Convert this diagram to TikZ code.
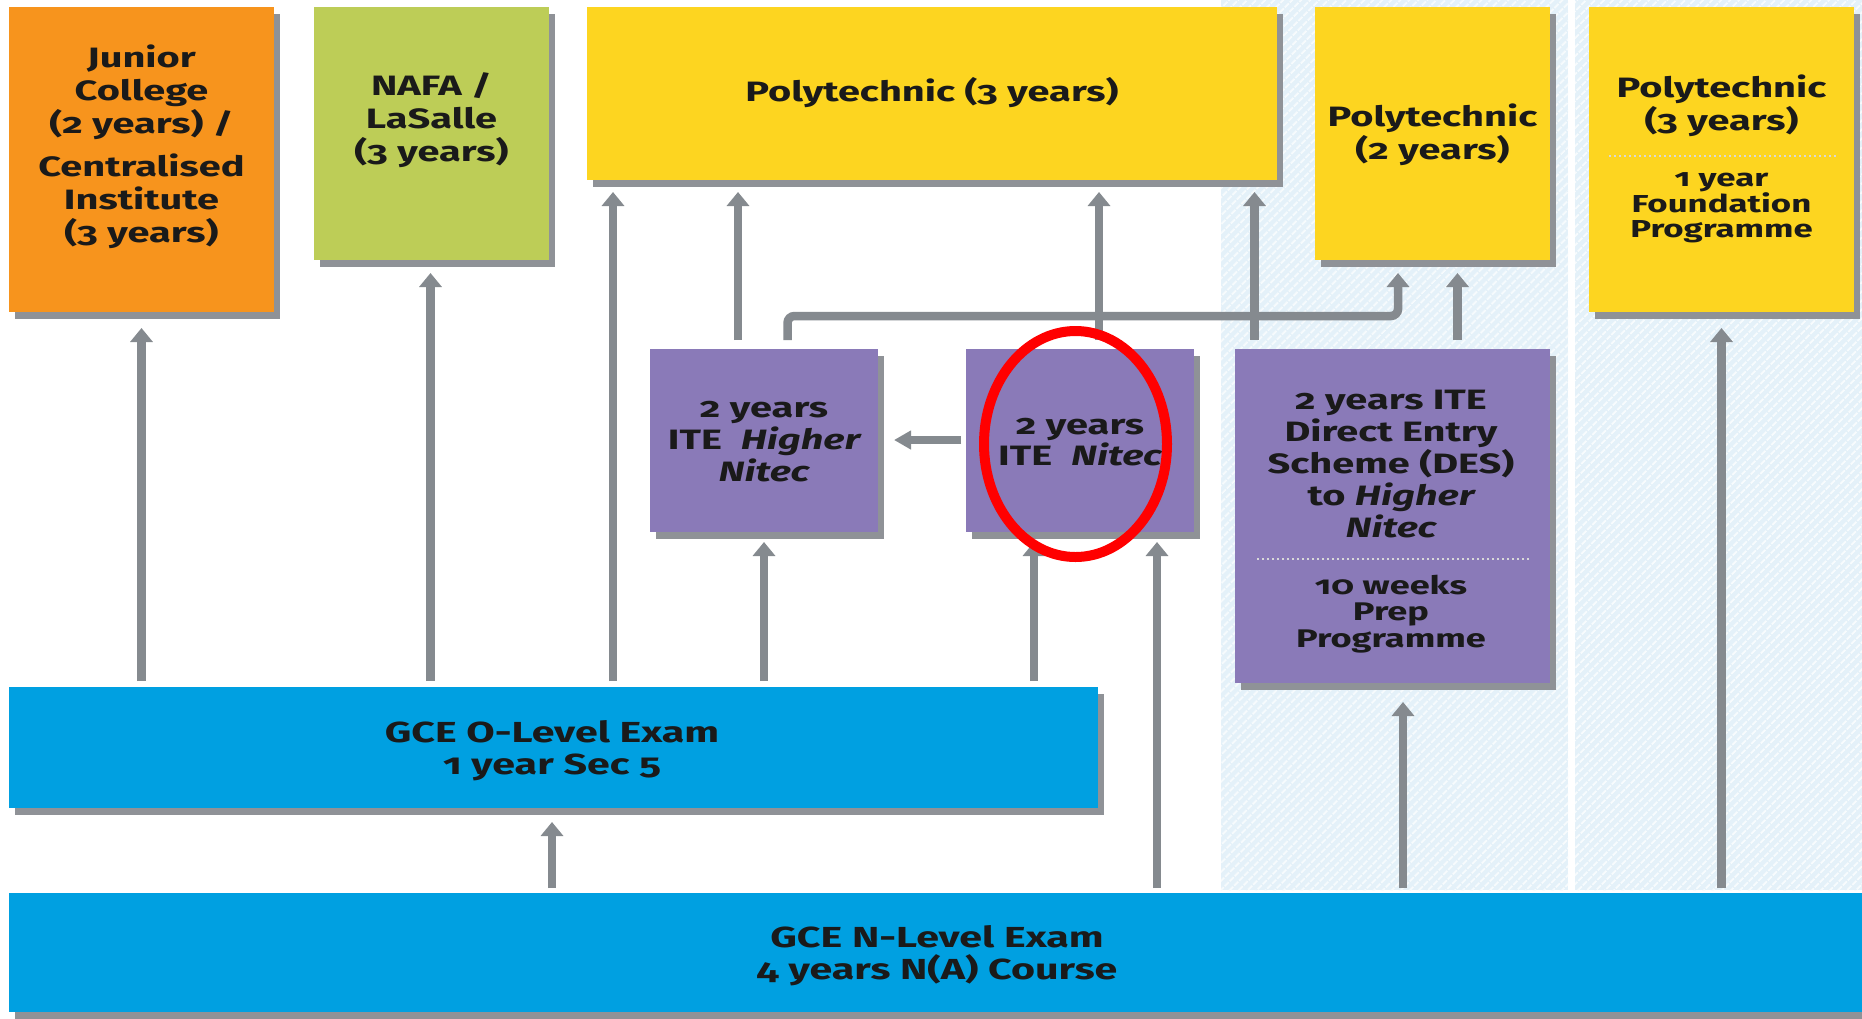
\documentclass[tikz,border=0pt]{standalone}
\usepackage{fontspec}
\setsansfont{Fira Sans}[Numbers=OldStyle,FakeStretch=1.42]
\usetikzlibrary{arrows.meta,shadows,patterns.meta}
\definecolor{cOrange}{HTML}{F7941D}
\definecolor{cGreen}{HTML}{BDCD57}
\definecolor{cYellow}{HTML}{FDD520}
\definecolor{cPurple}{HTML}{8A7AB8}
\definecolor{cBlue}{HTML}{00A0E1}
\definecolor{cArrow}{HTML}{858A8F}
\definecolor{cShadow}{HTML}{8F9297}
\definecolor{cHatch}{HTML}{E4F1F9}
\definecolor{cText}{HTML}{1A1A1A}
\begin{document}
\begin{tikzpicture}[x=1pt,y=-1pt,
  box/.style={anchor=north west, inner sep=0pt, outer sep=0pt,
    drop shadow={shadow xshift=6pt,shadow yshift=-7pt,fill=cShadow,opacity=1}},
  lbl/.style={font=\sffamily\bfseries\fontsize{28}{33}\selectfont, align=center, text=cText, inner sep=0pt},
  sml/.style={font=\sffamily\bfseries\fontsize{24}{26}\selectfont, align=center, text=cText, inner sep=0pt},
  flow/.style={draw=cArrow, line width=8.5pt, -{Triangle[width=22pt,length=14pt]}, shorten <=6pt, shorten >=12pt},
  flowh/.style={draw=cArrow, line width=8pt, -{Triangle[width=18pt,length=17pt]}},
  dotsep/.style={draw=white!85!black, line width=1.5pt, dash pattern=on 2pt off 3pt},
]
\useasboundingbox (0,0) rectangle (1862,1018);
\fill[white] (0,0) rectangle (1862,1018);
% hatched background
\fill[cHatch] (1221,0) rectangle (1568,890);
\fill[cHatch] (1575,0) rectangle (1862,890);
\fill[pattern={Lines[angle=45,distance=6.5pt,line width=2.2pt]}, pattern color=white!70!cHatch] (1221,0) rectangle (1568,890);
\fill[pattern={Lines[angle=45,distance=6.5pt,line width=2.2pt]}, pattern color=white!70!cHatch] (1575,0) rectangle (1862,890);

% boxes
\node[box, fill=cOrange, minimum width=265pt, minimum height=305pt] (jc) at (9,7) {};
\node[box, fill=cGreen, minimum width=235pt, minimum height=253pt] (nafa) at (314,7) {};
\node[box, fill=cYellow, minimum width=690pt, minimum height=173pt] (poly3) at (587,7) {};
\node[box, fill=cYellow, minimum width=235pt, minimum height=253pt] (poly2) at (1315,7) {};
\node[box, fill=cYellow, minimum width=265pt, minimum height=305pt] (found) at (1589,7) {};
\node[box, fill=cPurple, minimum width=228pt, minimum height=183pt] (hnitec) at (650,349) {};
\node[box, fill=cPurple, minimum width=228pt, minimum height=183pt] (nitec) at (966,349) {};
\node[box, fill=cPurple, minimum width=315pt, minimum height=334pt] (des) at (1235,349) {};
\node[box, fill=cBlue, minimum width=1089pt, minimum height=121pt] (olevel) at (9,687) {};
\node[box, fill=cBlue, minimum width=1870pt, minimum height=119pt] (nlevel) at (9,893) {};

% separators
\draw[dotsep] (1609,156) -- (1837,156);
\draw[dotsep] (1257,559) -- (1529,559);

% labels
\node[lbl] (tjc) at (141.5,147) {Junior\\College\\(2 years) /\\[10pt]Centralised\\Institute\\(3 years)};
\node[lbl] (tnafa) at (431.5,120) {NAFA /\\LaSalle\\(3 years)};
\node[lbl] (tpoly3) at (932,93) {Polytechnic (3 years)};
\node[lbl] (tpoly2) at (1432.5,135) {Polytechnic\\(2 years)};
\node[lbl] (tfound) at (1721.5,106) {Polytechnic\\(3 years)};
\node[sml, font=\sffamily\bfseries\fontsize{24.5}{25}\selectfont] (tfound2) at (1721.5,208) {1 year\\Foundation\\Programme};
\node[lbl, font=\sffamily\bfseries\fontsize{28}{32}\selectfont] (thn) at (764,442) {2 years\\ITE\ \ \itshape Higher\\\itshape Nitec};
\node[lbl, font=\sffamily\bfseries\fontsize{28}{31}\selectfont] (tni) at (1080,442) {2 years\\ITE\ \ \itshape Nitec};
\node[lbl, font=\sffamily\bfseries\fontsize{28}{32}\selectfont] (tdes) at (1391,464) {2 years ITE\\Direct Entry\\Scheme (DES)\\to \itshape Higher\\\itshape Nitec};
\node[sml, font=\sffamily\bfseries\fontsize{25.5}{26.5}\selectfont] (tdes2) at (1391,614) {10 weeks\\Prep\\Programme};
\node[lbl, font=\sffamily\bfseries\fontsize{29}{32}\selectfont] (tol) at (552,751) {GCE O-Level Exam\\1 year Sec 5};
\node[lbl, font=\sffamily\bfseries\fontsize{29}{32}\selectfont] (tnl) at (937,956) {GCE N-Level Exam\\4 years N(A) Course};

% connectors from O-level
\draw[flow, shorten >=16pt] (olevel.north -| jc.south) -- (jc.south);
\draw[flow, shorten >=13pt] (430.5,0 |- olevel.north) -- (430.5,0 |- nafa.south);
\draw[flow] (613,0 |- olevel.north) -- (613,0 |- poly3.south);
\draw[flow, shorten >=10pt] (764,0 |- olevel.north) -- (764,0 |- hnitec.south);
\draw[flow, shorten >=10pt] (1034,0 |- olevel.north) -- (1034,0 |- nitec.south);
% connectors from N-level
\draw[flow, shorten <=5pt, shorten >=14pt] (552,0 |- nlevel.north) -- (552,0 |- olevel.south);
\draw[flow, shorten <=5pt, shorten >=10pt] (1157,0 |- nlevel.north) -- (1157,0 |- nitec.south);
\draw[flow, shorten <=5pt, shorten >=19pt] (1403,0 |- nlevel.north) -- (1403,0 |- des.south);
\draw[flow, shorten <=5pt, shorten >=16pt] (1721.5,0 |- nlevel.north) -- (1721.5,0 |- found.south);
% connectors from ITE boxes
\draw[flow, shorten <=9pt] (738,0 |- hnitec.north) -- (738,0 |- poly3.south);
\draw[flow, shorten <=9pt, shorten >=13pt, rounded corners=7pt] (787.5,0 |- hnitec.north) -- (787.5,316) -- (1398,316) -- (1398,0 |- poly2.south);
\draw[flow, shorten <=9pt] (1099,0 |- nitec.north) -- (1099,0 |- poly3.south);
\draw[flow, shorten <=9pt] (1254.5,0 |- des.north) -- (1254.5,0 |- poly3.south);
\draw[flow, shorten <=9pt, shorten >=13pt] (1457.5,0 |- des.north) -- (1457.5,0 |- poly2.south);
\draw[flowh, shorten <=5pt, shorten >=16pt] (nitec.west |- 0,440) -- (hnitec.east |- 0,440);

% highlight
\draw[red, line width=10pt] (1075.5,444) ellipse [x radius=91.5pt, y radius=113pt];
\end{tikzpicture}
\end{document}
